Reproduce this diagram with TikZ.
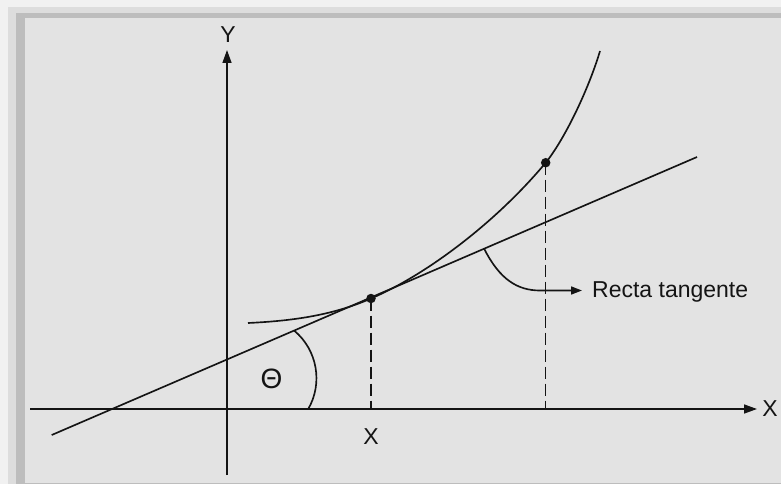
\documentclass[tikz,border=0pt]{standalone}
\usepackage{fontspec}
\setmainfont{Liberation Sans}
\usetikzlibrary{arrows.meta}
\definecolor{panel}{HTML}{E3E3E3}
\definecolor{outer}{HTML}{F1F1F1}
\definecolor{band}{HTML}{BDBDBD}
\definecolor{midband}{HTML}{DDDDDD}
\definecolor{ink}{HTML}{141414}
\tikzset{
  curveline/.style={draw=ink, line width=1.65pt},
  axisline/.style={draw=ink, line width=1.45pt},
  dashline/.style={draw=ink, line width=1.5pt, dash pattern=on 12pt off 5pt},
  lbl/.style={inner sep=0pt, text=ink, font=\fontsize{23}{27}\selectfont},
  pointdot/.style={circle, fill=ink, inner sep=0pt, minimum size=9.5pt},
  bigtip/.style={-{Triangle[length=13pt,width=9pt]}},
}
\begin{document}
\begin{tikzpicture}[x=1pt,y=-1pt]
\useasboundingbox (0,0) rectangle (781,484);
% frame
\fill[outer] (0,0) rectangle (781,484);
\fill[midband] (8,7) rectangle (781,484);
\fill[band] (16,13) rectangle (781,484);
\fill[panel] (25,18) rectangle (781,483);

% coordinates
\coordinate (xs) at (30,409);
\coordinate (xe) at (757,409);
\coordinate (ys) at (227,475);
\coordinate (ye) at (227,50);
\coordinate (ts) at (51.7,435);
\coordinate (te) at (697,157);
\coordinate (c0) at (248,323);
\coordinate (c3) at (600,51);
\coordinate (d1) at (371,409);
\coordinate (d2) at (545.7,409);
\coordinate (a1) at (294.3,330.7);
\coordinate (r1) at (484.3,249);
\coordinate (r2) at (540,290.5);
\coordinate (r3) at (582,290.5);

% axes
\draw[axisline, bigtip] (xs) -- (xe);
\draw[axisline, bigtip] (ys) -- (ye);

% tangent line
\draw[curveline] (ts) -- (te);

% curve
\node[pointdot] (p1) at (371,298.5) {};
\node[pointdot] (p2) at (545.7,162.7) {};
\draw[curveline] (c0) .. controls (290,321) and (331,316) .. (p1.center)
  .. controls (426,275) and (495.7,222.7) .. (p2.center)
  .. controls (564,140) and (588,91) .. (c3);

% dashed lines
\draw[dashline] (p1.center) -- (d1);
\draw[dashline] (p2.center) -- (d2);

% angle arc
\draw[curveline] (a1) arc[start angle=-50, end angle=30, radius=62];

% pointer
\node[lbl, anchor=west] (rt) at (592,291.5) {Recta tangente};
\draw[curveline, -{Triangle[length=11pt,width=8pt]}] (r1) .. controls (500,280) and (518,290.5) .. (r2) -- (r3);

% labels
\node[lbl] (ylab) at (228,35) {Y};
\node[lbl] (xlab) at (770,409) {X};
\node[lbl] (xbot) at (371,436.5) {X};
\node[lbl, font=\fontsize{28}{32}\selectfont] (th) at (271.5,379) {Θ};
\end{tikzpicture}
\end{document}
